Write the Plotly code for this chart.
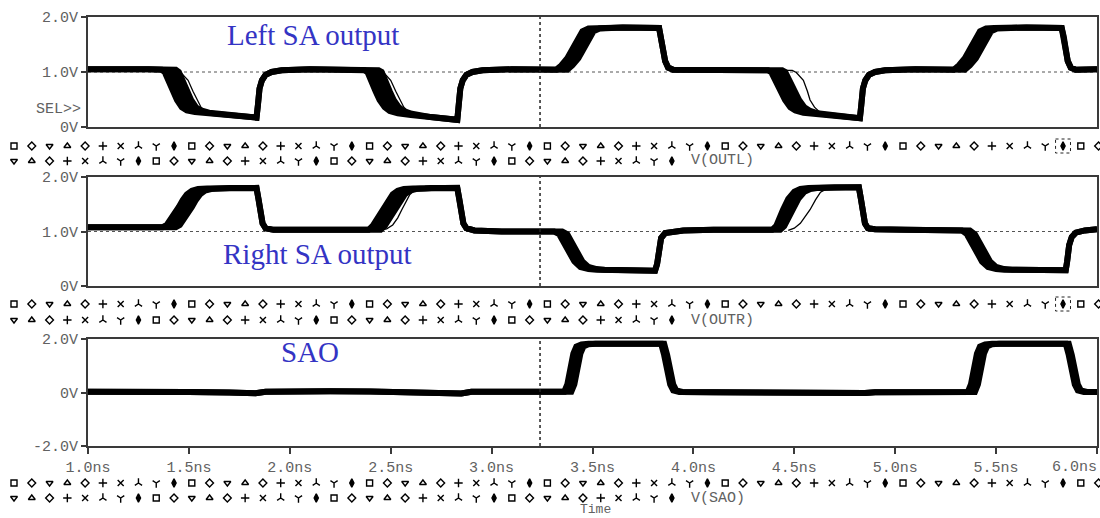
import plotly.graph_objects as go

W, H = 1100, 518

# ---------------- data (time in ns, voltage in V) ----------------
# Panel 1: V(OUTL)  -- left / early edge of the Monte-Carlo band
OUTL_EARLY_T = [1.00, 1.10, 1.20, 1.30, 1.365, 1.38, 1.396, 1.42, 1.441, 1.465, 1.49, 1.53,
                1.60, 1.70, 1.78, 1.835, 1.842, 1.85, 1.862, 1.88, 1.91, 1.96,
                2.10, 2.25, 2.36, 2.37, 2.385, 2.40, 2.425, 2.445, 2.47, 2.495, 2.535,
                2.60, 2.70, 2.78, 2.83, 2.837, 2.845, 2.857, 2.875, 2.905, 2.955,
                3.10, 3.20, 3.32, 3.345, 3.375, 3.398, 3.425, 3.45, 3.48, 3.52,
                3.65, 3.83, 3.84, 3.85, 3.86, 3.875, 3.90,
                4.00, 4.15, 4.30, 4.37, 4.385, 4.405, 4.43, 4.454, 4.48, 4.505, 4.545,
                4.62, 4.70, 4.78, 4.825, 4.832, 4.84, 4.852, 4.87, 4.90, 4.95,
                5.10, 5.20, 5.29, 5.315, 5.345, 5.368, 5.395, 5.42, 5.45, 5.49,
                5.65, 5.825, 5.835, 5.845, 5.855, 5.87, 5.895, 6.00]
OUTL_EARLY_V = [1.05, 1.06, 1.05, 1.05, 1.04, 1.00, 0.85, 0.65, 0.49, 0.36, 0.30, 0.27,
                0.25, 0.22, 0.19, 0.17, 0.40, 0.70, 0.85, 0.95, 1.00, 1.03,
                1.05, 1.05, 1.04, 1.03, 1.00, 0.85, 0.65, 0.49, 0.36, 0.29, 0.25,
                0.22, 0.18, 0.15, 0.13, 0.40, 0.70, 0.85, 0.95, 1.00, 1.03,
                1.05, 1.05, 1.04, 1.12, 1.25, 1.40, 1.60, 1.74, 1.79, 1.80,
                1.81, 1.80, 1.65, 1.40, 1.20, 1.08, 1.04,
                1.04, 1.04, 1.04, 1.03, 1.00, 0.85, 0.65, 0.49, 0.36, 0.30, 0.26,
                0.24, 0.21, 0.18, 0.16, 0.40, 0.70, 0.85, 0.95, 1.00, 1.03,
                1.05, 1.05, 1.04, 1.12, 1.25, 1.40, 1.60, 1.74, 1.79, 1.80,
                1.81, 1.80, 1.65, 1.40, 1.20, 1.08, 1.04, 1.05]
# right / late edge of the band
OUTL_LATE_T = [1.00, 1.10, 1.20, 1.30, 1.40, 1.435, 1.45, 1.466, 1.49, 1.511, 1.535, 1.56, 1.60,
               1.70, 1.78, 1.835, 1.842, 1.85, 1.862, 1.88, 1.91, 1.96,
               2.10, 2.25, 2.36, 2.40, 2.44, 2.455, 2.47, 2.495, 2.515, 2.54, 2.565, 2.605,
               2.70, 2.78, 2.83, 2.837, 2.845, 2.857, 2.875, 2.905, 2.955,
               3.10, 3.20, 3.32, 3.375, 3.40, 3.43, 3.453, 3.48, 3.505, 3.535, 3.575,
               3.65, 3.83, 3.84, 3.85, 3.86, 3.875, 3.90,
               4.00, 4.15, 4.30, 4.37, 4.44, 4.455, 4.475, 4.50, 4.524, 4.55, 4.575, 4.615,
               4.70, 4.78, 4.825, 4.832, 4.84, 4.852, 4.87, 4.90, 4.95,
               5.10, 5.20, 5.29, 5.345, 5.37, 5.40, 5.423, 5.45, 5.475, 5.505, 5.545,
               5.65, 5.825, 5.835, 5.845, 5.855, 5.87, 5.895, 6.00]
OUTL_LATE_V = [1.05, 1.06, 1.05, 1.05, 1.04, 1.04, 1.00, 0.85, 0.65, 0.49, 0.36, 0.30, 0.26,
               0.22, 0.19, 0.17, 0.40, 0.70, 0.85, 0.95, 1.00, 1.03,
               1.05, 1.05, 1.04, 1.04, 1.03, 1.00, 0.85, 0.65, 0.49, 0.36, 0.29, 0.24,
               0.18, 0.15, 0.13, 0.40, 0.70, 0.85, 0.95, 1.00, 1.03,
               1.05, 1.05, 1.04, 1.04, 1.12, 1.25, 1.40, 1.60, 1.74, 1.79, 1.80,
               1.81, 1.80, 1.65, 1.40, 1.20, 1.08, 1.04,
               1.04, 1.04, 1.04, 1.03, 1.03, 1.00, 0.85, 0.65, 0.49, 0.36, 0.30, 0.25,
               0.21, 0.18, 0.16, 0.40, 0.70, 0.85, 0.95, 1.00, 1.03,
               1.05, 1.05, 1.04, 1.04, 1.12, 1.25, 1.40, 1.60, 1.74, 1.79, 1.80,
               1.81, 1.80, 1.65, 1.40, 1.20, 1.08, 1.04, 1.05]
# single lagging run (thin line)
OUTL_THIN_T = [1.40, 1.43, 1.46, 1.48, 1.496, 1.52, 1.54, 1.56, 1.58, 1.62, None,
               2.40, 2.435, 2.465, 2.485, 2.50, 2.525, 2.545, 2.565, 2.585, 2.625, None,
               4.44, 4.49, 4.51, 4.53, 4.545, 4.565, 4.578, 4.60, 4.62, 4.66]
OUTL_THIN_V = [1.04, 1.035, 0.99, 0.92, 0.85, 0.65, 0.49, 0.36, 0.30, 0.26, None,
               1.04, 1.035, 0.99, 0.92, 0.85, 0.65, 0.49, 0.36, 0.29, 0.24, None,
               1.03, 1.03, 0.99, 0.92, 0.85, 0.65, 0.49, 0.36, 0.29, 0.24]

# Panel 2: V(OUTR)
OUTR_EARLY_T = [1.00, 1.10, 1.20, 1.30, 1.37, 1.39, 1.41, 1.43, 1.45, 1.47, 1.49, 1.515, 1.545, 1.59,
                1.70, 1.835, 1.845, 1.855, 1.865, 1.88, 1.92,
                2.05, 2.20, 2.39, 2.41, 2.43, 2.45, 2.47, 2.49, 2.51, 2.535, 2.565, 2.61,
                2.70, 2.83, 2.84, 2.85, 2.86, 2.875, 2.915,
                3.05, 3.20, 3.31, 3.335, 3.36, 3.385, 3.41, 3.44, 3.48, 3.52,
                3.65, 3.81, 3.82, 3.83, 3.84, 3.86, 3.90, 3.95,
                4.10, 4.25, 4.39, 4.41, 4.425, 4.444, 4.47, 4.50, 4.53, 4.57,
                4.70, 4.82, 4.83, 4.84, 4.85, 4.865, 4.90,
                5.05, 5.20, 5.33, 5.355, 5.38, 5.405, 5.43, 5.46, 5.50, 5.54,
                5.70, 5.845, 5.852, 5.862, 5.875, 5.895, 5.94, 6.00]
OUTR_EARLY_V = [1.08, 1.09, 1.08, 1.08, 1.08, 1.12, 1.22, 1.35, 1.45, 1.58, 1.68, 1.75, 1.78, 1.79,
                1.80, 1.80, 1.60, 1.35, 1.15, 1.06, 1.03,
                1.03, 1.02, 1.03, 1.10, 1.22, 1.35, 1.45, 1.58, 1.68, 1.75, 1.78, 1.79,
                1.80, 1.80, 1.60, 1.35, 1.15, 1.06, 1.02,
                1.00, 1.00, 1.00, 0.95, 0.80, 0.60, 0.45, 0.35, 0.31, 0.30,
                0.29, 0.28, 0.40, 0.70, 0.88, 0.97, 1.00, 1.02,
                1.03, 1.03, 1.03, 1.10, 1.25, 1.40, 1.60, 1.73, 1.78, 1.80,
                1.81, 1.81, 1.60, 1.35, 1.15, 1.06, 1.04,
                1.03, 1.02, 1.02, 0.95, 0.80, 0.60, 0.45, 0.35, 0.31, 0.30,
                0.29, 0.29, 0.45, 0.75, 0.90, 0.98, 1.02, 1.04]
OUTR_LATE_T = [1.00, 1.10, 1.20, 1.30, 1.435, 1.455, 1.475, 1.495, 1.515, 1.535, 1.555, 1.58, 1.61, 1.655,
               1.70, 1.835, 1.845, 1.855, 1.865, 1.88, 1.92,
               2.05, 2.20, 2.45, 2.47, 2.49, 2.51, 2.53, 2.55, 2.57, 2.595, 2.625, 2.67,
               2.70, 2.83, 2.84, 2.85, 2.86, 2.875, 2.915,
               3.05, 3.20, 3.35, 3.375, 3.40, 3.425, 3.45, 3.48, 3.52, 3.56,
               3.65, 3.81, 3.82, 3.83, 3.84, 3.86, 3.90, 3.95,
               4.10, 4.25, 4.43, 4.45, 4.47, 4.489, 4.52, 4.55, 4.58, 4.62,
               4.70, 4.82, 4.83, 4.84, 4.85, 4.865, 4.90,
               5.05, 5.20, 5.37, 5.395, 5.42, 5.445, 5.47, 5.50, 5.54, 5.58,
               5.70, 5.845, 5.852, 5.862, 5.875, 5.895, 5.94, 6.00]
OUTR_LATE_V = [1.08, 1.09, 1.08, 1.08, 1.08, 1.12, 1.22, 1.35, 1.45, 1.58, 1.68, 1.75, 1.78, 1.79,
               1.80, 1.80, 1.60, 1.35, 1.15, 1.06, 1.03,
               1.03, 1.02, 1.03, 1.10, 1.22, 1.35, 1.45, 1.58, 1.68, 1.75, 1.78, 1.79,
               1.80, 1.80, 1.60, 1.35, 1.15, 1.06, 1.02,
               1.00, 1.00, 1.00, 0.95, 0.80, 0.60, 0.45, 0.35, 0.31, 0.30,
               0.29, 0.28, 0.40, 0.70, 0.88, 0.97, 1.00, 1.02,
               1.03, 1.03, 1.03, 1.10, 1.25, 1.40, 1.60, 1.73, 1.78, 1.80,
               1.81, 1.81, 1.60, 1.35, 1.15, 1.06, 1.04,
               1.03, 1.02, 1.02, 0.95, 0.80, 0.60, 0.45, 0.35, 0.31, 0.30,
               0.29, 0.29, 0.45, 0.75, 0.90, 0.98, 1.02, 1.04]
OUTR_THIN_T = [2.45, 2.48, 2.51, 2.535, 2.555, 2.575, 2.595, 2.62, 2.66, None,
               4.47, 4.50, 4.53, 4.555, 4.578, 4.605, 4.63, 4.66, 4.70]
OUTR_THIN_V = [1.03, 1.05, 1.12, 1.25, 1.40, 1.55, 1.68, 1.76, 1.79, None,
               1.02, 1.06, 1.15, 1.28, 1.40, 1.58, 1.72, 1.78, 1.80]

# Panel 3: V(SAO)
SAO_EARLY_T = [1.00, 1.15, 1.30, 1.50, 1.70, 1.83, 1.88, 2.00, 2.20, 2.40, 2.60, 2.80, 2.85, 2.90, 3.10, 3.36,
               3.375, 3.39, 3.405, 3.42, 3.445, 3.48, 3.65, 3.84,
               3.855, 3.87, 3.885, 3.90, 3.93,
               4.10, 4.30, 4.45, 4.70, 4.85, 4.90, 5.10, 5.36,
               5.375, 5.39, 5.405, 5.42, 5.445, 5.48, 5.65, 5.845,
               5.86, 5.875, 5.89, 5.905, 5.935, 6.00]
SAO_EARLY_V = [0.03, 0.04, 0.03, 0.02, 0.00, -0.03, 0.03, 0.05, 0.05, 0.04, 0.00, -0.01, -0.04, 0.03, 0.04, 0.03,
               0.30, 0.90, 1.45, 1.72, 1.80, 1.82, 1.82, 1.82,
               1.40, 0.80, 0.30, 0.08, 0.02,
               0.01, 0.00, -0.03, -0.04, -0.02, 0.01, 0.01, 0.02,
               0.30, 0.90, 1.45, 1.72, 1.80, 1.82, 1.82, 1.82,
               1.40, 0.80, 0.30, 0.08, 0.02, 0.02]
SAO_LATE_T = [1.00, 1.15, 1.30, 1.50, 1.70, 1.83, 1.88, 2.00, 2.20, 2.40, 2.60, 2.80, 2.85, 2.90, 3.10, 3.395,
              3.41, 3.425, 3.44, 3.455, 3.48, 3.515, 3.65, 3.855,
              3.87, 3.885, 3.90, 3.915, 3.945,
              4.10, 4.30, 4.45, 4.70, 4.85, 4.90, 5.10, 5.395,
              5.41, 5.425, 5.44, 5.455, 5.48, 5.515, 5.65, 5.86,
              5.875, 5.89, 5.905, 5.92, 5.95, 6.00]
SAO_LATE_V = [0.03, 0.04, 0.03, 0.02, 0.00, -0.03, 0.03, 0.05, 0.05, 0.04, 0.00, -0.01, -0.04, 0.03, 0.04, 0.03,
              0.30, 0.90, 1.45, 1.72, 1.80, 1.82, 1.82, 1.82,
              1.40, 0.80, 0.30, 0.08, 0.02,
              0.01, 0.00, -0.03, -0.04, -0.02, 0.01, 0.01, 0.02,
              0.30, 0.90, 1.45, 1.72, 1.80, 1.82, 1.82, 1.82,
              1.40, 0.80, 0.30, 0.08, 0.02, 0.02]

CURSOR_T = 3.24
TIME_TICKS = [1.0, 1.5, 2.0, 2.5, 3.0, 3.5, 4.0, 4.5, 5.0, 5.5, 6.0]
TIME_LABELS = ["1.0ns", "1.5ns", "2.0ns", "2.5ns", "3.0ns", "3.5ns", "4.0ns", "4.5ns", "5.0ns", "5.5ns", "6.0ns"]
V12_TICKS = [0, 1, 2]
V12_LABELS = ["0V", "1.0V", "2.0V"]
V3_TICKS = [-2, 0, 2]
V3_LABELS = ["-2.0V", "0V", "2.0V"]
TRACE_NAMES = ["V(OUTL)", "V(OUTR)", "V(SAO)"]
PANEL_TITLES = ["Left SA output", "Right SA output", "SAO"]

# PSpice marker legend row symbols (cycle of ten)
MARKER_SYMBOLS = ["square-open", "diamond-open", "triangle-down-open", "triangle-up-open",
                  "diamond-open", "cross-thin-open", "x-thin-open", "y-up-open", "y-down-open",
                  "diamond-tall"]
ROW1_COUNT = 62
ROW2_COUNT = 38
ROW2_OFFSET = 2
BOXED_INDEX = 59

# ---------------- layout helpers ----------------
def px(y):
    return 1 - y / H

X_DOM = [88 / W, 1097 / W]
PANEL_PX = [(17, 127), (177, 286), (339, 446)]
ROWS_PX = [(146, 161), (304, 320), (483, 498)]
MK_X0, MK_DX = 14, 17.78

AXIS_COLOR = "#3a3a3a"
TICK_FONT = dict(family="Liberation Mono, Courier New, monospace", size=15, color="#616161")
SMALL_FONT = dict(family="Liberation Mono, Courier New, monospace", size=13, color="#616161")
BLUE = "#3434c4"
BAND_W = 6

fig = go.Figure()

panels = [
    (OUTL_EARLY_T, OUTL_EARLY_V, OUTL_LATE_T, OUTL_LATE_V, OUTL_THIN_T, OUTL_THIN_V),
    (OUTR_EARLY_T, OUTR_EARLY_V, OUTR_LATE_T, OUTR_LATE_V, OUTR_THIN_T, OUTR_THIN_V),
    (SAO_EARLY_T, SAO_EARLY_V, SAO_LATE_T, SAO_LATE_V, None, None),
]

for i, (et, ev, lt, lv, tt, tv) in enumerate(panels):
    xa = "x" if i == 0 else f"x{i+1}"
    ya = "y" if i == 0 else f"y{i+1}"
    fig.add_trace(go.Scatter(x=et, y=ev, xaxis=xa, yaxis=ya, mode="lines",
                             line=dict(color="black", width=BAND_W), hoverinfo="skip"))
    fig.add_trace(go.Scatter(x=lt, y=lv, xaxis=xa, yaxis=ya, mode="lines",
                             line=dict(color="black", width=BAND_W), fill="tonexty",
                             fillcolor="black", hoverinfo="skip"))
    if tt is not None:
        fig.add_trace(go.Scatter(x=tt, y=tv, xaxis=xa, yaxis=ya, mode="lines",
                                 line=dict(color="black", width=1.3), connectgaps=False,
                                 hoverinfo="skip"))

# marker legend rows on a full-page axis pair (x: marker index, y: pixel rows)
for r1, r2 in ROWS_PX:
    k1 = list(range(ROW1_COUNT))
    fig.add_trace(go.Scatter(x=k1, y=[r1] * ROW1_COUNT, xaxis="x4", yaxis="y4", mode="markers",
                             marker=dict(symbol=[MARKER_SYMBOLS[k % 10] for k in k1], size=6,
                                         color="black", line=dict(color="black", width=1.4)),
                             cliponaxis=False, hoverinfo="skip"))
    k2 = list(range(ROW2_COUNT))
    fig.add_trace(go.Scatter(x=k2, y=[r2] * ROW2_COUNT, xaxis="x4", yaxis="y4", mode="markers",
                             marker=dict(symbol=[MARKER_SYMBOLS[(k + ROW2_OFFSET) % 10] for k in k2], size=6,
                                         color="black", line=dict(color="black", width=1.4)),
                             cliponaxis=False, hoverinfo="skip"))

layout = dict(
    width=W, height=H, margin=dict(l=0, r=0, t=0, b=0, pad=0, autoexpand=False),
    paper_bgcolor="white", plot_bgcolor="rgba(0,0,0,0)", showlegend=False,
)

for i, (top, bot) in enumerate(PANEL_PX):
    xk = "xaxis" if i == 0 else f"xaxis{i+1}"
    yk = "yaxis" if i == 0 else f"yaxis{i+1}"
    ya = "y" if i == 0 else f"y{i+1}"
    xa = "x" if i == 0 else f"x{i+1}"
    last = (i == 2)
    labels = (TIME_LABELS[:-1] + [""]) if last else []
    layout[xk] = dict(domain=X_DOM, range=[1.0, 6.0], anchor=ya, showgrid=False, zeroline=False,
                      showline=True, mirror=True, linecolor=AXIS_COLOR, linewidth=2,
                      tickvals=TIME_TICKS if last else [], ticktext=labels,
                      ticks="outside" if last else "", ticklen=6, tickwidth=1.5, tickcolor=AXIS_COLOR,
                      showticklabels=last, tickfont=TICK_FONT, automargin=False)
    tv, tl, rg = (V3_TICKS, V3_LABELS, [-2, 2]) if last else (V12_TICKS, V12_LABELS, [0, 2])
    layout[yk] = dict(domain=[px(bot), px(top)], range=rg, anchor=xa, showgrid=False, zeroline=False,
                      showline=True, mirror=True, linecolor=AXIS_COLOR, linewidth=2,
                      tickvals=tv, ticktext=tl, ticks="outside", ticklen=5, tickwidth=1.5,
                      tickcolor=AXIS_COLOR, tickfont=TICK_FONT, automargin=False)

layout["xaxis4"] = dict(domain=[0, 1], range=[-MK_X0 / MK_DX, (W - MK_X0) / MK_DX], anchor="y4",
                        visible=False, automargin=False, fixedrange=True)
layout["yaxis4"] = dict(domain=[0, 1], range=[H, 0], anchor="x4", visible=False,
                        automargin=False, fixedrange=True)

shapes = []
annotations = []
for i in range(3):
    xa = "x" if i == 0 else f"x{i+1}"
    ya = "y" if i == 0 else f"y{i+1}"
    shapes.append(dict(type="line", xref=xa, yref=f"{ya} domain", x0=CURSOR_T, x1=CURSOR_T,
                       y0=0, y1=1, line=dict(color="#222222", width=1.5, dash="dot")))
    if i < 2:
        shapes.append(dict(type="line", xref=f"{xa} domain", yref=ya, x0=0, x1=1, y0=1.0, y1=1.0,
                           layer="below", line=dict(color="#555555", width=1, dash="dot")))
        r1 = ROWS_PX[i][0]
        shapes.append(dict(type="rect", xref="x4", yref="y4", x0=BOXED_INDEX - 0.42, x1=BOXED_INDEX + 0.42,
                           y0=r1 - 7, y1=r1 + 7, line=dict(color="#222222", width=1, dash="dot")))
    annotations.append(dict(text=TRACE_NAMES[i], xref="paper", yref="paper", x=689 / W,
                            y=px(ROWS_PX[i][1]), xanchor="left", yanchor="middle",
                            showarrow=False, font=TICK_FONT))

# last time label is pulled inside the page, as in the PSpice print
annotations.append(dict(text=TIME_LABELS[-1], xref="paper", yref="paper", x=1099 / W, y=px(467),
                        xanchor="right", yanchor="middle", showarrow=False, font=TICK_FONT))

title_pos = [(313, 35), (317, 254), (310, 352)]
for t, (x, y) in zip(PANEL_TITLES, title_pos):
    annotations.append(dict(text=t, xref="paper", yref="paper", x=x / W, y=px(y),
                            xanchor="center", yanchor="middle", showarrow=False,
                            font=dict(family="Liberation Serif, Times New Roman, serif", size=29, color=BLUE)))

annotations.append(dict(text="SEL>>", xref="paper", yref="paper", x=83 / W, y=px(109),
                        xanchor="right", yanchor="middle", showarrow=False, font=TICK_FONT))
annotations.append(dict(text="Time", xref="paper", yref="paper", x=595 / W, y=0,
                        xanchor="center", yanchor="bottom", borderpad=0,
                        showarrow=False, font=SMALL_FONT))

layout["shapes"] = shapes
layout["annotations"] = annotations
fig.update_layout(**layout)

fig.write_html("out.html")
